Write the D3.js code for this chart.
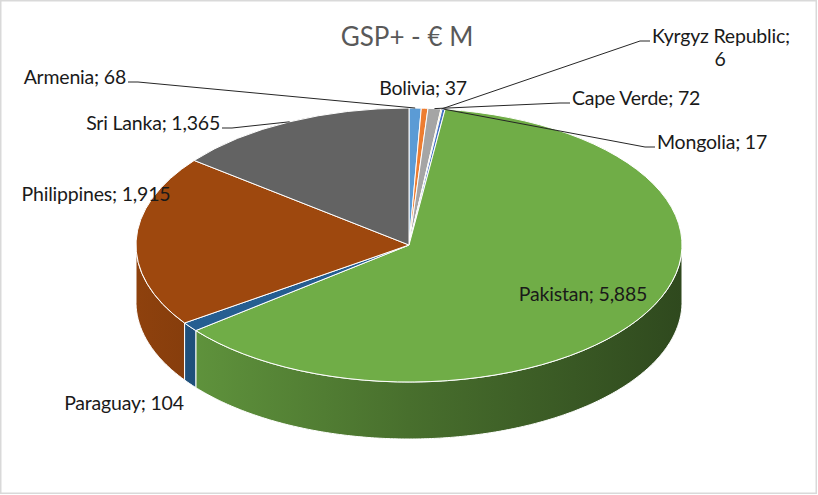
<!DOCTYPE html>
<html>
<head>
<meta charset="utf-8">
<script src="https://cdn.jsdelivr.net/npm/d3@7"></script>
<style>
	body { margin: 0; background: #fff; }
	svg { display: block; font-family: Lato, "Open Sans", sans-serif; }
</style>
</head>
<body>
<svg id="chart" width="818" height="495"></svg>
<script>

var countries = [ 'Armenia', 'Bolivia', 'Cape Verde', 'Kyrgyz Republic', 'Mongolia', 'Pakistan', 'Paraguay', 'Philippines', 'Sri Lanka' ];
var values = [ 68, 37, 72, 6, 17, 5885, 104, 1915, 1365 ];
var colors = [ '#5B9BD5', '#ED7D31', '#A5A5A5', '#FFC000', '#4472C4', '#70AD47', '#255E91', '#9E480E', '#636363' ];
var title = 'GSP+ - € M';

// label placement, by hand like the excel "best fit" result
// side: which end of the text the leader hangs on, null = no leader
var labelLayout = {
	'Armenia':         { x: 126, y: 84,  anchor: 'end',    side: 'right' },
	'Bolivia':         { x: 423, y: 95,  anchor: 'middle', side: null },
	'Cape Verde':      { x: 572, y: 105, anchor: 'start',  side: 'left' },
	'Kyrgyz Republic': { x: 652, y: 43,  anchor: 'start',  side: 'left', wrap: true },
	'Mongolia':        { x: 657, y: 149, anchor: 'start',  side: 'left' },
	'Pakistan':        { x: 583, y: 301, anchor: 'middle', side: null },
	'Paraguay':        { x: 124, y: 410, anchor: 'middle', side: null },
	'Philippines':     { x: 96,  y: 201, anchor: 'middle', side: null },
	'Sri Lanka':       { x: 220, y: 130, anchor: 'end',    side: 'right' }
};

var width = 818, height = 495;
var cx = 409, cy = 245, rx = 273, ry = 137, depth = 57;

var fmt = d3.format(',');

var shade = function( c, f ) {
	var r = d3.rgb( c );
	return d3.rgb( r.r * f, r.g * f, r.b * f ).formatHex();
};

// angle is clockwise from 12 o'clock, same as d3.pie
var px = function( a ) { return cx + rx * Math.sin( a ); };
var py = function( a ) { return cy - ry * Math.cos( a ); };

var pie = d3.pie().sort( null ).value( function( d ) { return d.value; } );

var slices = pie( countries.map( function( name, i ) {
	return { name: name, value: values[i], color: colors[i] };
}) );

var svg = d3.select( '#chart' );

svg.append( 'rect' )
	.attr( 'x', 0.75 ).attr( 'y', 0.75 )
	.attr( 'width', width - 2.5 ).attr( 'height', height - 2.5 )
	.attr( 'fill', '#fff' )
	.attr( 'stroke', '#d9d9d9' )
	.attr( 'stroke-width', 1.5 );

var defs = svg.append( 'defs' );

slices.forEach( function( s, i ) {
	var grad = defs.append( 'linearGradient' )
		.attr( 'id', 'side-' + i )
		.attr( 'gradientUnits', 'userSpaceOnUse' )
		.attr( 'x1', cx - rx ).attr( 'x2', cx + rx )
		.attr( 'y1', 0 ).attr( 'y2', 0 );
	grad.append( 'stop' ).attr( 'offset', 0 ).attr( 'stop-color', shade( s.data.color, 0.9 ) );
	grad.append( 'stop' ).attr( 'offset', 0.5 ).attr( 'stop-color', shade( s.data.color, 0.64 ) );
	grad.append( 'stop' ).attr( 'offset', 1 ).attr( 'stop-color', shade( s.data.color, 0.42 ) );
});

//: slice -> path string of the visible outer wall, or null
var sidePath = function( s ) {
	var a0 = Math.max( s.startAngle, Math.PI / 2 );
	var a1 = Math.min( s.endAngle, Math.PI * 3 / 2 );
	if ( a1 <= a0 ) { return null; }
	var n = Math.max( 2, Math.ceil( ( a1 - a0 ) / 0.01 ) );
	var angles = d3.range( n + 1 ).map( function( k ) { return a0 + ( a1 - a0 ) * k / n; } );
	var top = angles.map( function( a ) { return [ px( a ), py( a ) ]; } );
	var bottom = angles.slice().reverse().map( function( a ) { return [ px( a ), py( a ) + depth ]; } );
	return d3.line()( top.concat( bottom ) ) + 'Z';
};

var sideGroup = svg.append( 'g' ).attr( 'id', 'side-group' );

sideGroup.selectAll( '.side' )
	.data( slices.filter( function( s ) { return sidePath( s ) !== null; } ) )
	.enter()
		.append( 'path' )
		.classed( 'side', true )
		.attr( 'd', sidePath )
		.attr( 'fill', function( d ) { return 'url(#side-' + d.index + ')'; } )
		.attr( 'stroke', '#fff' )
		.attr( 'stroke-width', 1 )
		.attr( 'stroke-linejoin', 'round' );

var arc = d3.arc().innerRadius( 0 ).outerRadius( rx );

var topGroup = svg.append( 'g' )
	.attr( 'id', 'top-group' )
	.attr( 'transform', 'translate(' + cx + ',' + cy + ') scale(1,' + ( ry / rx ) + ')' );

topGroup.selectAll( '.slice' )
	.data( slices )
	.enter()
		.append( 'path' )
		.classed( 'slice', true )
		.attr( 'd', arc )
		.attr( 'fill', function( d ) { return d.data.color; } )
		.attr( 'stroke', '#fff' )
		.attr( 'stroke-width', 1 )
		.attr( 'vector-effect', 'non-scaling-stroke' )
		.attr( 'stroke-linejoin', 'round' );

// leaders go to the middle of the slice on the rim of the top face
var leaderGroup = svg.append( 'g' ).attr( 'id', 'leader-group' );

slices.forEach( function( s ) {
	var lay = labelLayout[ s.data.name ];
	if ( !lay.side ) { return; }
	var mid = ( s.startAngle + s.endAngle ) / 2;
	var dir = lay.side === 'right' ? 1 : -1;
	var x0 = lay.x + dir * 2, y0 = lay.y - 2;
	var pts = [ [ x0, y0 ], [ x0 + dir * 10, y0 ], [ px( mid ), py( mid ) ] ];
	leaderGroup.append( 'path' )
		.attr( 'd', d3.line()( pts ) )
		.attr( 'fill', 'none' )
		.attr( 'stroke', '#262626' )
		.attr( 'stroke-width', 1 );
});

var labelGroup = svg.append( 'g' ).attr( 'id', 'label-group' );

slices.forEach( function( s ) {
	var lay = labelLayout[ s.data.name ];
	var text = labelGroup.append( 'text' )
		.attr( 'x', lay.x )
		.attr( 'y', lay.y )
		.attr( 'text-anchor', lay.anchor )
		.attr( 'font-size', 19.5 )
		.attr( 'letter-spacing', -0.2 )
		.attr( 'fill', '#1a1a1a' );
	if ( lay.wrap ) {
		text.append( 'tspan' ).text( s.data.name + ';' );
		text.append( 'tspan' )
			.attr( 'x', lay.x + 68 )
			.attr( 'dy', 23 )
			.attr( 'text-anchor', 'middle' )
			.text( fmt( s.data.value ) );
	} else {
		text.text( s.data.name + '; ' + fmt( s.data.value ) );
	}
});

svg.append( 'text' )
	.attr( 'x', 407 )
	.attr( 'y', 46 )
	.attr( 'text-anchor', 'middle' )
	.attr( 'font-size', 26 )
	.attr( 'fill', '#595959' )
	.text( title );

</script>
</body>
</html>
